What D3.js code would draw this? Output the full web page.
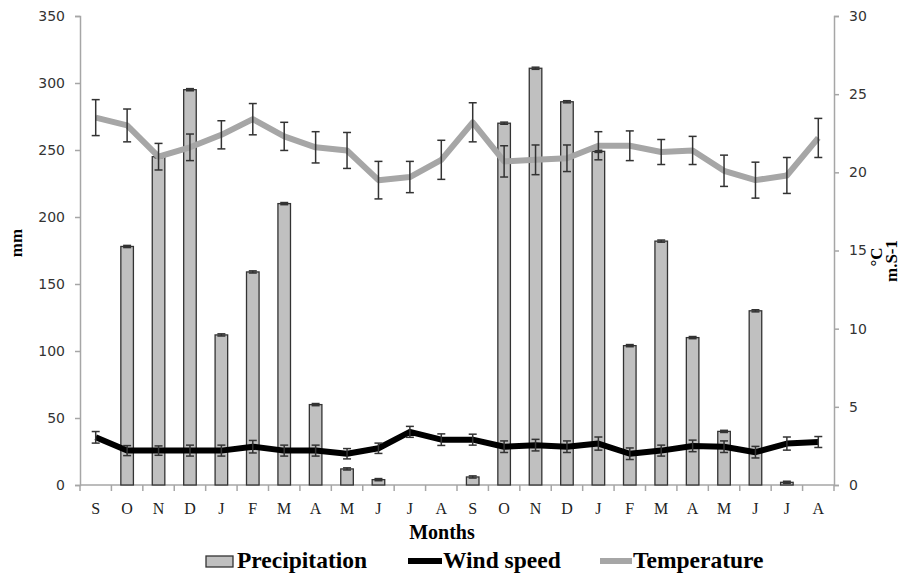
<!DOCTYPE html>
<html>
<head>
<meta charset="utf-8">
<script src="https://cdn.jsdelivr.net/npm/d3@7"></script>
<style>
  body { margin: 0; background: #fff; }
  svg { display: block; }
</style>
</head>
<body>
<div id="chart"></div>
<script>
// month labels (Sept -> Aug, two years)
const months = ["S","O","N","D","J","F","M","A","M","J","J","A",
                "S","O","N","D","J","F","M","A","M","J","J","A"];

// precipitation, mm
const precip = [0,178,245,295,112,159,210,60,12,4,0,0,
                6,270,311,286,249,104,182,110,40,130,2,0];
const precipErr = [0,0.8,0.8,0.8,0.8,0.8,0.8,0.8,0.8,0.8,0,0,
                   0.8,0.8,0.8,0.8,0.8,0.8,0.8,0.8,0.8,0.8,0.8,0];

// temperature, °C
const temp = [23.5,23.0,21.0,21.6,22.4,23.4,22.3,21.6,21.4,19.5,19.7,20.8,
              23.2,20.7,20.8,20.9,21.7,21.7,21.3,21.4,20.1,19.5,19.8,22.2];
const tempErr = [1.15,1.05,0.85,0.85,0.9,1.0,0.9,1.0,1.15,1.2,1.0,1.25,
                 1.25,1.0,0.95,0.85,0.9,0.95,0.8,0.9,1.0,1.15,1.15,1.25];

// wind speed, m.s-1
const wind = [3.05,2.2,2.2,2.2,2.2,2.45,2.2,2.2,2.0,2.35,3.4,2.9,
              2.9,2.45,2.55,2.45,2.65,2.0,2.2,2.5,2.45,2.1,2.65,2.75];
const windErr = [0.37,0.32,0.3,0.35,0.35,0.4,0.35,0.35,0.33,0.33,0.35,0.37,
                 0.35,0.37,0.37,0.37,0.42,0.37,0.35,0.37,0.37,0.37,0.42,0.35];

const leftTicks = [0,50,100,150,200,250,300,350];
const rightTicks = [0,5,10,15,20,25,30];

const width = 919, height = 576;
const margin = {top: 16, right: 85, bottom: 91, left: 80};
const innerW = width - margin.left - margin.right;
const innerH = height - margin.top - margin.bottom;

const svg = d3.select("#chart").append("svg")
  .attr("width", width)
  .attr("height", height);

const g = svg.append("g")
  .attr("transform", `translate(${margin.left},${margin.top})`);

const idx = d3.range(months.length);

const x = d3.scaleBand().domain(idx).range([0, innerW]).paddingInner(0.6).paddingOuter(0.3);
const xc = i => x(i) + x.bandwidth() / 2;
const step = innerW / months.length;

const yL = d3.scaleLinear().domain([0, 350]).range([innerH, 0]);
const yR = d3.scaleLinear().domain([0, 30]).range([innerH, 0]);

const axisColor = "#a6a6a6";
const sansFont = "'DejaVu Sans', Verdana, sans-serif";
const serifFont = "'Liberation Serif', 'Times New Roman', serif";

// left axis
const leftAxis = g.append("g")
  .call(d3.axisLeft(yL).tickValues(leftTicks).tickSize(5).tickPadding(10));
leftAxis.select(".domain").attr("stroke", axisColor).attr("stroke-width", 1.5);
leftAxis.selectAll(".tick line").attr("stroke", axisColor).attr("stroke-width", 1.5);
leftAxis.selectAll("text")
  .attr("font-family", sansFont).attr("font-size", 14).attr("fill", "#333");

// right axis
const rightAxis = g.append("g")
  .attr("transform", `translate(${innerW},0)`)
  .call(d3.axisRight(yR).tickValues(rightTicks).tickSize(5).tickPadding(10));
rightAxis.select(".domain").attr("stroke", axisColor).attr("stroke-width", 1.5);
rightAxis.selectAll(".tick line").attr("stroke", axisColor).attr("stroke-width", 1.5);
rightAxis.selectAll("text")
  .attr("font-family", sansFont).attr("font-size", 14).attr("fill", "#333");

// x axis: line with ticks on category boundaries
const xAxis = g.append("g").attr("transform", `translate(0,${innerH})`);
xAxis.append("line")
  .attr("x1", 0).attr("x2", innerW)
  .attr("stroke", axisColor).attr("stroke-width", 1.5);
xAxis.selectAll(".xtick")
  .data(d3.range(months.length + 1))
  .join("line")
  .attr("class", "xtick")
  .attr("x1", d => d * step).attr("x2", d => d * step)
  .attr("y1", 0).attr("y2", 6)
  .attr("stroke", axisColor).attr("stroke-width", 1.5);
xAxis.selectAll(".xlab")
  .data(idx)
  .join("text")
  .attr("class", "xlab")
  .attr("x", d => xc(d))
  .attr("y", 29)
  .attr("text-anchor", "middle")
  .attr("font-family", serifFont)
  .attr("font-size", 16)
  .attr("fill", "#222")
  .text(d => months[d]);

// bars
g.selectAll(".bar")
  .data(idx.filter(i => precip[i] > 0))
  .join("rect")
  .attr("class", "bar")
  .attr("x", i => x(i))
  .attr("y", i => yL(precip[i]))
  .attr("width", x.bandwidth())
  .attr("height", i => innerH - yL(precip[i]))
  .attr("fill", "#c0c0c0")
  .attr("stroke", "#333")
  .attr("stroke-width", 1.3);

// error bars
const errColor = "#333";
const capW = 4;
const drawErr = (vals, errs, scale, cls) => {
  const eg = g.append("g").attr("class", cls)
    .attr("stroke", errColor).attr("stroke-width", 1.5);
  const ids = idx.filter(i => errs[i] > 0);
  eg.selectAll(".v").data(ids).join("line").attr("class", "v")
    .attr("x1", i => xc(i)).attr("x2", i => xc(i))
    .attr("y1", i => scale(vals[i] - errs[i]))
    .attr("y2", i => scale(vals[i] + errs[i]));
  eg.selectAll(".t").data(ids).join("line").attr("class", "t")
    .attr("x1", i => xc(i) - capW).attr("x2", i => xc(i) + capW)
    .attr("y1", i => scale(vals[i] + errs[i]))
    .attr("y2", i => scale(vals[i] + errs[i]));
  eg.selectAll(".b").data(ids).join("line").attr("class", "b")
    .attr("x1", i => xc(i) - capW).attr("x2", i => xc(i) + capW)
    .attr("y1", i => scale(vals[i] - errs[i]))
    .attr("y2", i => scale(vals[i] - errs[i]));
};

drawErr(precip, precipErr, yL, "perr");

// lines
const tempLine = d3.line().x(i => xc(i)).y(i => yR(temp[i]));
const windLine = d3.line().x(i => xc(i)).y(i => yR(wind[i]));

g.append("path")
  .datum(idx)
  .attr("d", windLine)
  .attr("fill", "none")
  .attr("stroke", "#000")
  .attr("stroke-width", 6)
  .attr("stroke-linejoin", "round");
drawErr(wind, windErr, yR, "werr");

g.append("path")
  .datum(idx)
  .attr("d", tempLine)
  .attr("fill", "none")
  .attr("stroke", "#a6a6a6")
  .attr("stroke-width", 6)
  .attr("stroke-linejoin", "round");
drawErr(temp, tempErr, yR, "terr");

// axis titles
svg.append("text")
  .attr("transform", `translate(22,243) rotate(-90)`)
  .attr("text-anchor", "middle")
  .attr("font-family", serifFont).attr("font-weight", "bold").attr("font-size", 17)
  .text("mm");
svg.append("text")
  .attr("transform", `translate(882,257) rotate(-90)`)
  .attr("text-anchor", "middle")
  .attr("font-family", serifFont).attr("font-weight", "bold").attr("font-size", 17)
  .text("°C");
svg.append("text")
  .attr("transform", `translate(897,261) rotate(-90)`)
  .attr("text-anchor", "middle")
  .attr("font-family", serifFont).attr("font-weight", "bold").attr("font-size", 17)
  .text("m.S-1");
svg.append("text")
  .attr("x", 442).attr("y", 539)
  .attr("text-anchor", "middle")
  .attr("font-family", serifFont).attr("font-weight", "bold").attr("font-size", 20)
  .text("Months");

// legend
const legend = svg.append("g").attr("transform", "translate(0,568)");
const legFont = 23.5;
legend.append("rect")
  .attr("x", 206).attr("y", -12).attr("width", 27).attr("height", 11)
  .attr("fill", "#c0c0c0").attr("stroke", "#333").attr("stroke-width", 1.3);
legend.append("text").attr("x", 237).attr("y", 0)
  .attr("font-family", serifFont).attr("font-weight", "bold").attr("font-size", legFont)
  .text("Precipitation");
legend.append("line")
  .attr("x1", 408).attr("x2", 442).attr("y1", -7).attr("y2", -7)
  .attr("stroke", "#000").attr("stroke-width", 6);
legend.append("text").attr("x", 443).attr("y", 0)
  .attr("font-family", serifFont).attr("font-weight", "bold").attr("font-size", legFont)
  .text("Wind speed");
legend.append("line")
  .attr("x1", 600).attr("x2", 632).attr("y1", -7).attr("y2", -7)
  .attr("stroke", "#a6a6a6").attr("stroke-width", 6);
legend.append("text").attr("x", 633).attr("y", 0)
  .attr("font-family", serifFont).attr("font-weight", "bold").attr("font-size", legFont)
  .text("Temperature");
</script>
</body>
</html>
